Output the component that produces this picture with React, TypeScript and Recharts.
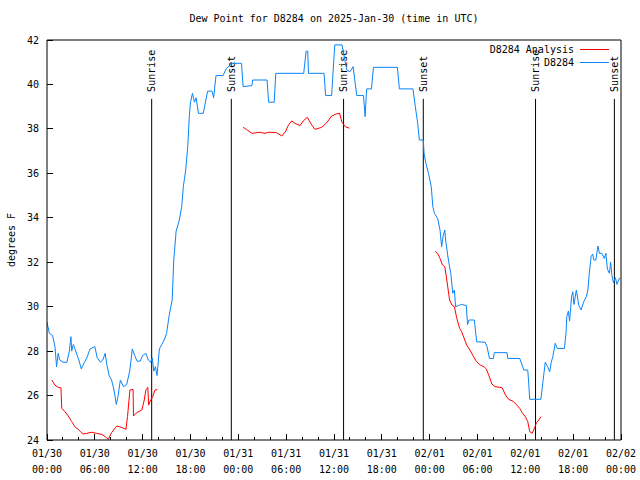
import React from "react"
import { LineChart, Line, XAxis, YAxis, ReferenceLine, Legend } from "recharts"

// hours since 01/30 00:00 UTC
const stationTimes = [
  0, 0.3, 0.7, 1.0, 1.2, 1.4, 1.6, 2.0, 2.5, 2.8, 3.0, 3.1, 3.3, 3.5, 4.0, 4.3, 4.7, 5.0, 5.4, 6.0,
  6.3, 6.7, 7.0, 7.3, 7.5, 7.8, 8.1, 8.4, 8.7, 8.9, 9.2, 9.6, 10.0, 10.4, 10.7, 11.0, 11.3, 11.7, 12.0, 12.4,
  12.7, 13.0, 13.2, 13.4, 13.6, 13.8, 14.1, 14.4, 14.7, 15.0, 15.3, 15.7, 15.9, 16.2, 16.6, 16.9, 17.1, 17.4, 17.65, 17.85,
  18.0, 18.25, 18.5, 18.7, 19.0, 19.6, 20.15, 20.7, 20.9, 21.2, 22.1, 22.45, 23.2, 24.4, 24.6, 25.7, 25.8, 27.6, 27.8, 28.5,
  28.7, 32.2, 32.5, 32.7, 32.8, 34.75, 34.95, 35.7, 36.1, 37.0, 37.2, 37.6, 38.0, 38.4, 38.85, 39.7, 39.9, 40.1, 40.7, 40.95,
  43.95, 44.2, 45.9, 46.2, 46.5, 46.7, 47.2, 47.3, 47.5, 47.85, 48.2, 48.4, 48.6, 49.0, 49.3, 49.5, 49.7, 49.9, 50.0, 50.35,
  50.65, 50.9, 51.1, 51.25, 51.6, 52.0, 52.6, 52.75, 52.95, 53.6, 53.9, 54.95, 55.2, 55.5, 56.0, 56.1, 57.7, 57.8, 59.3, 59.6,
  59.8, 60.3, 60.4, 60.55, 61.95, 62.2, 62.5, 62.8, 63.05, 63.25, 63.45, 63.75, 64.0, 64.9, 65.1, 65.2, 65.4, 65.55, 65.8, 65.95,
  66.1, 66.4, 66.7, 67.0, 67.3, 67.65, 67.85, 68.0, 68.25, 68.45, 68.6, 68.85, 69.1, 69.3, 69.6, 69.9, 70.1, 70.3, 70.55, 70.7,
  70.85, 71.05, 71.3, 71.5, 71.7, 71.85
]
const stationDew = [
  29.3, 28.8, 28.7, 28.2, 27.3, 27.9, 27.6, 27.5, 27.5, 28.0, 28.65, 28.0, 28.3, 28.1, 27.6, 27.2, 27.5, 27.7, 28.1, 28.2,
  27.7, 27.5, 27.6, 27.9, 27.4, 26.9, 26.7, 26.25, 25.6, 25.95, 26.7, 26.4, 26.5, 27.15, 28.1, 27.8, 27.55, 27.55, 27.8, 27.9,
  27.6, 27.5, 27.7, 27.1, 27.3, 26.9, 28.1, 28.3, 28.5, 28.8, 29.55, 30.3, 32.1, 33.4, 33.9, 34.5, 35.4, 36.15, 37.2, 38.55,
  39.2, 39.6, 39.2, 39.4, 38.7, 38.7, 39.7, 39.7, 39.4, 40.4, 40.4, 40.7, 40.95, 40.95, 39.9, 39.95, 40.2, 40.2, 39.2, 39.2,
  40.5, 40.5, 41.5, 41.5, 40.5, 40.5, 39.5, 39.5, 41.78, 41.78, 41.4, 40.65, 40.57, 40.8, 39.5, 39.5, 38.55, 39.8, 39.8, 40.77,
  40.77, 39.8, 39.8, 39.0, 38.25, 37.5, 37.5, 36.9, 36.5, 36.0, 35.4, 34.5, 34.2, 33.97, 33.45, 32.7, 33.2, 33.45, 33.0, 32.1,
  31.5, 30.6, 30.75, 30.0, 30.05, 30.1, 30.05, 29.2, 29.4, 29.4, 28.42, 28.4, 28.2, 27.67, 27.67, 27.93, 27.93, 27.67, 27.67, 27.37,
  27.15, 27.15, 26.7, 25.83, 25.83, 26.6, 27.5, 27.3, 27.07, 27.5, 27.75, 28.35, 28.12, 28.12, 28.8, 29.55, 29.8, 29.35, 30.45, 30.67,
  30.1, 30.75, 30.07, 29.85, 30.2, 30.45, 30.75, 31.43, 32.25, 32.37, 32.1, 32.1, 32.73, 32.4, 32.4, 32.17, 32.4, 31.68, 31.5, 32.0,
  31.43, 31.08, 31.3, 31.0, 31.2, 31.3
]

// analysis runs only at night, null values break the line
const analysisTimes = [
  0.6, 1.0, 1.4, 1.75, 1.85, 2.25, 2.67, 3.1, 3.5, 3.9, 4.5, 5.0, 5.6, 6.2, 6.9, 7.3, 7.7, 8.1, 8.75, 9.4,
  9.9, 10.1, 10.4, 10.8, 10.85, 11.25, 11.9, 12.2, 12.4, 12.65, 12.75, 12.9, 13.25, 13.55, 13.85,
  19,
  24.6, 25.05, 25.7, 26.7, 27.35, 27.8, 28.8, 29.45, 29.9, 30.3, 30.7, 31.1, 31.75, 32.15, 32.65, 33.2, 33.6, 34.45, 35.1,
  35.7, 36.25, 36.7, 37.0, 37.4, 37.95,
  43,
  48.7, 49.0, 49.3, 49.6, 49.9, 50.15, 50.5, 50.8, 51.1, 51.4, 51.75, 52.0, 52.3, 52.65, 53.05, 53.5, 53.9, 54.35, 54.8, 55.1,
  55.4, 55.8, 56.2, 56.8, 57.1, 57.5, 57.9, 58.45, 58.95, 59.3, 59.6, 60.0, 60.3, 60.55, 60.85, 61.05, 61.4, 61.7, 61.95
]
const analysisDew = [
  26.7, 26.47, 26.37, 26.35, 25.43, 25.27, 25.08, 24.83, 24.6, 24.48, 24.27, 24.3, 24.35, 24.3, 24.25, 24.15, 24.03, 24.33, 24.63, 24.56,
  24.48, 25.05, 26.25, 26.27, 25.08, 25.23, 25.35, 25.8, 26.25, 26.37, 25.57, 25.72, 25.95, 26.25, 26.27,
  null,
  38.07, 37.97, 37.8, 37.85, 37.8, 37.85, 37.83, 37.68, 37.87, 38.18, 38.36, 38.25, 38.15, 38.36, 38.52, 38.18, 37.98, 38.07, 38.28,
  38.58, 38.67, 38.7, 38.3, 38.1, 38.03,
  null,
  32.48, 32.4, 32.17, 31.88, 31.8, 31.2, 30.3, 30.07, 30.0, 29.48, 29.03, 28.88, 28.6, 28.27, 28.05, 27.75, 27.52, 27.37, 27.3, 27.2,
  26.93, 26.52, 26.4, 26.37, 26.35, 26.03, 25.83, 25.75, 25.57, 25.42, 25.23, 25.05, 24.83, 24.38, 24.3, 24.45, 24.78, 24.9, 25.05
]

const sunrises = [13.13, 37.2, 61.28]
const sunsets = [23.12, 47.2, 71.17]

const xMajor = [0, 6, 12, 18, 24, 30, 36, 42, 48, 54, 60, 66, 72]
const xDates = ["01/30", "01/30", "01/30", "01/30", "01/31", "01/31", "01/31", "01/31", "02/01", "02/01", "02/01", "02/01", "02/02"]
const xTimes = ["00:00", "06:00", "12:00", "18:00", "00:00", "06:00", "12:00", "18:00", "00:00", "06:00", "12:00", "18:00", "00:00"]
const xAll = Array.from({ length: 37 }, (_, i) => i * 2)
const yTicks = [24, 26, 28, 30, 32, 34, 36, 38, 40, 42]

const stationData = stationTimes.map((t, i) => ({ t, v: stationDew[i] }))
const analysisData = analysisTimes.map((t, i) => ({ t, v: analysisDew[i] }))

const FONT = "'DejaVu Sans Mono', monospace"
const BLUE = "#0a84fa"
const RED = "#ff0000"

const BottomTick = (props: any) => {
  const { x, y, payload } = props
  const i = xMajor.indexOf(payload.value)
  const major = i >= 0
  return (
    <g>
      <line x1={x} x2={x} y1={y} y2={y - (major ? 6 : 3)} stroke="#000" shapeRendering="crispEdges" />
      {major && (
        <text x={x} y={y + 17} textAnchor="middle" fontSize={10} fontFamily={FONT} fill="#000">
          <tspan x={x}>{xDates[i]}</tspan>
          <tspan x={x} dy={16}>{xTimes[i]}</tspan>
        </text>
      )}
    </g>
  )
}

const TopTick = (props: any) => {
  const { x, y, payload } = props
  const major = xMajor.indexOf(payload.value) >= 0
  return <line x1={x} x2={x} y1={y} y2={y + (major ? 6 : 3)} stroke="#000" shapeRendering="crispEdges" />
}

const LeftTick = (props: any) => {
  const { x, y, payload } = props
  return (
    <g>
      <line x1={x} x2={x + 6} y1={y} y2={y} stroke="#000" shapeRendering="crispEdges" />
      <text x={x - 8} y={y} dy="0.35em" textAnchor="end" fontSize={10} fontFamily={FONT} fill="#000">
        {payload.value}
      </text>
    </g>
  )
}

const RightTick = (props: any) => {
  const { x, y } = props
  return <line x1={x} x2={x - 6} y1={y} y2={y} stroke="#000" shapeRendering="crispEdges" />
}

const SunLabel = (props: any) => {
  const { viewBox, text } = props
  const x = viewBox.x
  const y = viewBox.y - 7
  return (
    <text x={x} y={y} dy="0.35em" transform={`rotate(-90, ${x}, ${y})`} textAnchor="start" fontSize={10} fontFamily={FONT} fill="#000">
      {text}
    </text>
  )
}

const YTitle = (props: any) => {
  const { viewBox } = props
  const x = viewBox.x + 11
  const y = viewBox.y + viewBox.height / 2
  return (
    <text x={x} y={y} dy="0.35em" transform={`rotate(-90, ${x}, ${y})`} textAnchor="middle" fontSize={10} fontFamily={FONT} fill="#000">
      degrees F
    </text>
  )
}

const ChartTitle = (props: any) => {
  const { viewBox } = props
  return (
    <text x={viewBox.x + viewBox.width / 2} y={viewBox.y - 17} textAnchor="middle" fontSize={10} fontFamily={FONT} fill="#000">
      Dew Point for D8284 on 2025-Jan-30 (time in UTC)
    </text>
  )
}

const LegendBox = () => {
  const rows = [
    { name: "D8284 Analysis", color: RED },
    { name: "D8284", color: BLUE }
  ]
  return (
    <div style={{ fontFamily: FONT, fontSize: 10, color: "#000" }}>
      {rows.map((r) => (
        <div key={r.name} style={{ display: "flex", justifyContent: "flex-end", alignItems: "center", height: 13 }}>
          <span>{r.name}</span>
          <span style={{ display: "inline-block", width: 29, height: 1, background: r.color, marginLeft: 6 }} />
        </div>
      ))}
    </div>
  )
}

const App: React.FC = () => {
  return (
    <div style={{ position: "absolute", left: 0, top: 0, width: 640, height: 480, background: "#fff" }}>
      <LineChart width={640} height={480} margin={{ top: 39, right: 18, bottom: 0, left: 0 }}>
        <XAxis
          dataKey="t"
          type="number"
          domain={[0, 72]}
          ticks={xAll}
          interval={0}
          height={40}
          tickSize={0}
          tickMargin={0}
          tickLine={false}
          axisLine={{ stroke: "#000" }}
          tick={<BottomTick />}
          allowDataOverflow
        />
        <XAxis
          xAxisId="top"
          orientation="top"
          dataKey="t"
          type="number"
          domain={[0, 72]}
          ticks={xAll}
          interval={0}
          height={1}
          tickSize={0}
          tickMargin={0}
          tickLine={false}
          axisLine={{ stroke: "#000" }}
          tick={<TopTick />}
          label={<ChartTitle />}
        />
        <YAxis
          domain={[24, 42]}
          ticks={yTicks}
          interval={0}
          width={47}
          tickSize={0}
          tickMargin={0}
          tickLine={false}
          axisLine={{ stroke: "#000" }}
          tick={<LeftTick />}
          label={<YTitle />}
          allowDataOverflow
        />
        <YAxis
          yAxisId="r"
          orientation="right"
          domain={[24, 42]}
          ticks={yTicks}
          interval={0}
          width={1}
          tickSize={0}
          tickMargin={0}
          tickLine={false}
          axisLine={{ stroke: "#000" }}
          tick={<RightTick />}
        />
        {sunrises.map((t) => (
          <ReferenceLine
            key={"sr" + t}
            segment={[{ x: t, y: 24 }, { x: t, y: 39.35 }]}
            stroke="#000"
            label={<SunLabel text="Sunrise" />}
          />
        ))}
        {sunsets.map((t) => (
          <ReferenceLine
            key={"ss" + t}
            segment={[{ x: t, y: 24 }, { x: t, y: 39.35 }]}
            stroke="#000"
            label={<SunLabel text="Sunset" />}
          />
        ))}
        <Line
          data={analysisData}
          dataKey="v"
          name="D8284 Analysis"
          type="linear"
          stroke={RED}
          strokeWidth={1}
          dot={false}
          connectNulls={false}
          isAnimationActive={false}
        />
        <Line
          data={stationData}
          dataKey="v"
          name="D8284"
          type="linear"
          stroke={BLUE}
          strokeWidth={1}
          dot={false}
          isAnimationActive={false}
        />
        <Legend
          layout="vertical"
          align="center"
          verticalAlign="middle"
          wrapperStyle={{ top: 43, left: 440, width: 169, height: 26 }}
          content={() => <LegendBox />}
        />
      </LineChart>
    </div>
  )
}

export default App
